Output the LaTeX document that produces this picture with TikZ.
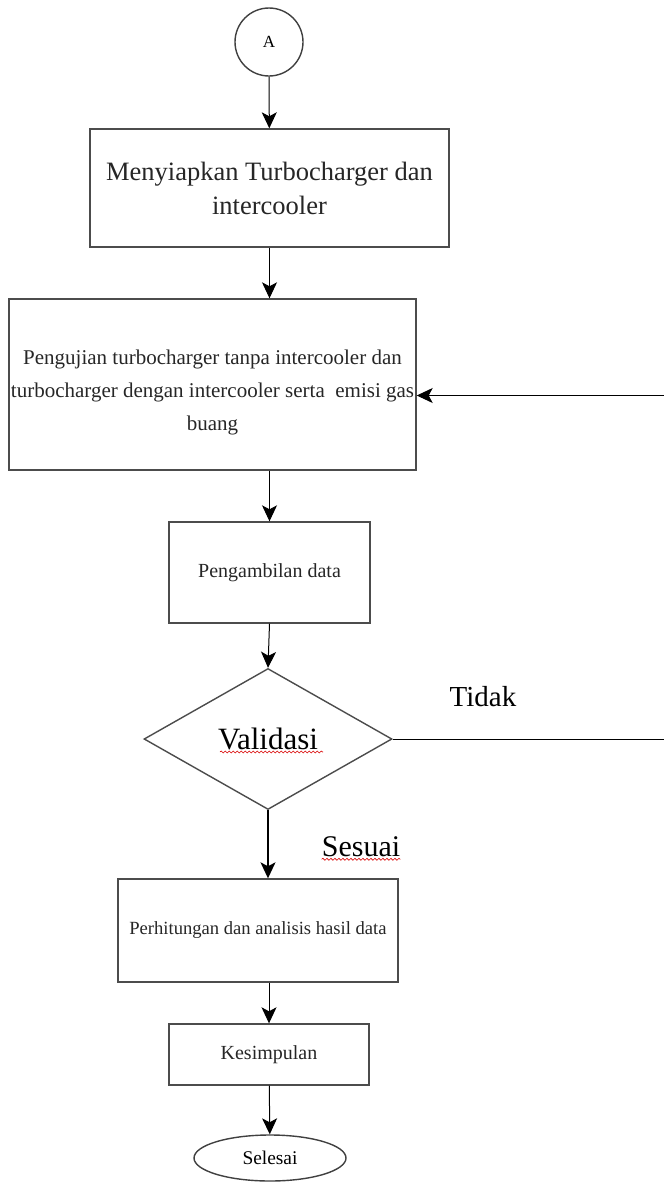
\documentclass[tikz,border=0pt]{standalone}
\usepackage{fontspec}
\setmainfont{Liberation Serif}
\usetikzlibrary{positioning}
\usetikzlibrary{arrows.meta}
\usetikzlibrary{shapes.geometric, decorations.pathmorphing}

\begin{document}
\begin{tikzpicture}[x=1pt, y=-1pt,
		box/.style={draw=black!70, line width=1.4pt, rectangle, align=center, text=black!85, inner sep=0pt},
		flow/.style={-{Stealth[length=16pt, width=15pt, inset=4pt]}, line width=1pt},
		squiggle/.style={red!85!black, line width=0.6pt, decorate, decoration={snake, amplitude=1pt, segment length=4pt}}]
	\useasboundingbox (0,0) rectangle (664,1184);

	\node[draw=black!75, line width=1.4pt, circle, minimum size=68pt, font=\fontsize{17}{20}\selectfont] (a) at (269,42) {A};
	\node[box, minimum width=359pt, minimum height=118pt, font=\fontsize{26.5}{34}\selectfont] (prep) at (269.5,188) {Menyiapkan Turbocharger dan\\intercooler};
	\node[box, minimum width=407pt, minimum height=171pt, font=\fontsize{21}{33}\selectfont] (test) at (212.5,384.5) {\rule{0pt}{30pt}Pengujian turbocharger tanpa intercooler dan\\turbocharger dengan intercooler serta~ emisi gas\\buang};
	\node[box, minimum width=201pt, minimum height=101pt, font=\fontsize{20}{24}\selectfont] (data) at (269.5,572.5) {Pengambilan data};
	\node[draw=black!70, line width=1.4pt, diamond, aspect=1.76, inner sep=0pt, minimum width=248pt, minimum height=141pt, font=\fontsize{31}{36}\selectfont] (valid) at (268,739) {Validasi};
	\node[box, minimum width=280pt, minimum height=103pt, font=\fontsize{18.6}{22}\selectfont] (calc) at (258,930.5) {Perhitungan dan analisis hasil data};
	\node[box, minimum width=200pt, minimum height=61pt, font=\fontsize{20}{24}\selectfont] (concl) at (269,1054.5) {Kesimpulan};
	\node[draw=black!75, line width=1.4pt, ellipse, minimum width=152pt, minimum height=46pt, inner sep=0pt, font=\fontsize{19.4}{22}\selectfont] (end) at (270,1158) {Selesai};

	% labels on the branches
	\node[font=\fontsize{29}{34}\selectfont] (no) at (483,697) {Tidak};
	\node[font=\fontsize{30}{34}\selectfont, inner sep=0pt] (yes) at (361,847) {Sesuai};
	\draw[squiggle] ([yshift=-2pt]yes.south west) -- ([yshift=-2pt]yes.south east);
	\draw[squiggle] ([xshift=-48pt,yshift=-13pt]valid.center) -- ([xshift=55pt,yshift=-13pt]valid.center);

	\draw[flow] (a) -- (prep);
	\draw[flow] (prep.south) -- (prep.south |- test.north);
	\draw[flow] (data.north |- test.south) -- (data.north);
	\draw[flow] (data.south) -- (valid.north);
	\draw[flow, line width=1.5pt] (valid.south) -- (valid.south |- calc.north);
	\draw[flow] (concl.north |- calc.south) -- (concl.north);
	\draw[flow] (concl) -- (end);
	\draw[flow] (valid.east) -- ++(276,0) |- ([yshift=-11pt]test.east);
\end{tikzpicture}
\end{document}
